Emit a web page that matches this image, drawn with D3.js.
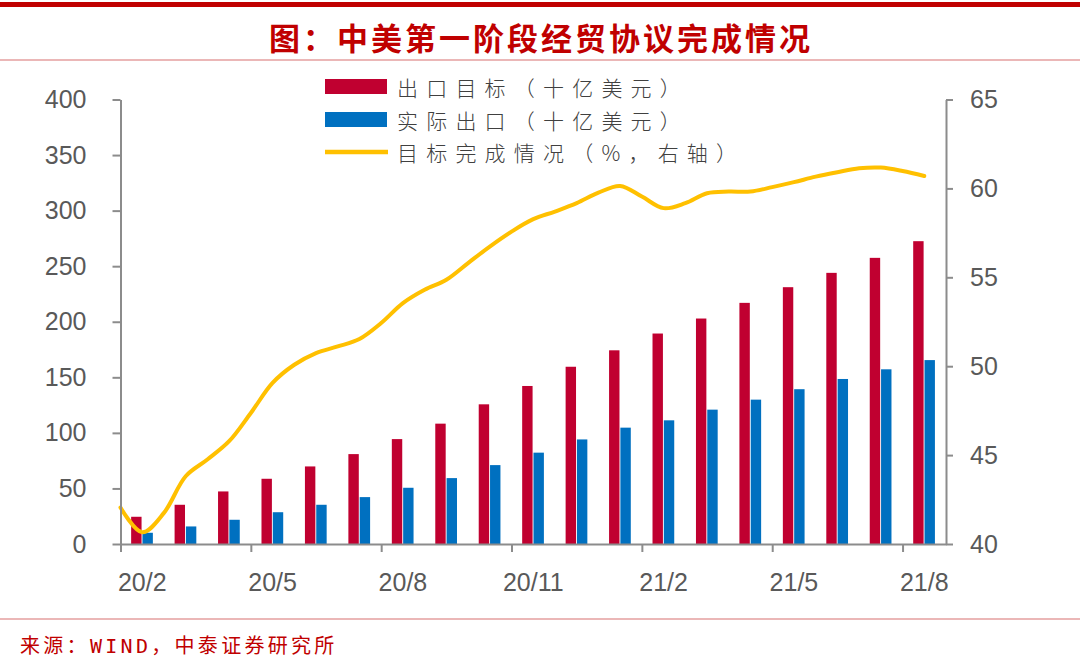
<!DOCTYPE html>
<html>
<head>
<meta charset="utf-8">
<script src="https://cdn.jsdelivr.net/npm/d3@7"></script>
<style>
  html, body { margin: 0; padding: 0; background: #fff; }
  svg { display: block; }
</style>
</head>
<body>
<svg id="chart" width="1080" height="671"></svg>
<script>
// data
const months = ["20/2","20/3","20/4","20/5","20/6","20/7","20/8","20/9","20/10","20/11","20/12",
                "21/1","21/2","21/3","21/4","21/5","21/6","21/7","21/8"]
const tickMonths = ["20/2","20/5","20/8","20/11","21/2","21/5","21/8"]
const exportTarget = [24.5, 35.3, 47.3, 58.7, 69.8, 80.9, 94.4, 108.3, 125.7, 142.2, 159.5,
                      174.3, 189.4, 202.9, 217.0, 231.1, 244.0, 257.5, 272.5]
const exportActual = [10.1, 15.8, 21.8, 28.6, 35.3, 42.2, 50.6, 59.3, 71.0, 82.2, 94.1,
                      104.7, 111.3, 120.9, 129.9, 139.3, 148.5, 157.2, 165.5]
// completion line, sampled every half month (month index, 0 = 20/2)
const lineT = [-0.5, 0, 0.5, 1, 1.5, 2, 2.5, 3, 3.5, 4, 4.5, 5, 5.5, 6, 6.5, 7, 7.5, 8, 8.5,
               9, 9.5, 10, 10.5, 11, 11.5, 12, 12.5, 13, 13.5, 14, 14.5, 15, 15.5, 16, 16.5, 17, 17.5, 18]
const completion = [42.05, 40.66, 41.75, 43.81, 44.75, 45.78, 47.37, 49.06, 50.08, 50.74, 51.11,
                    51.53, 52.43, 53.55, 54.3, 54.86, 55.8, 56.73, 57.57, 58.27, 58.7, 59.17,
                    59.76, 60.14, 59.54, 58.89, 59.17, 59.73, 59.82, 59.82, 60.07, 60.35, 60.66,
                    60.91, 61.13, 61.17, 60.98, 60.7]
const leftTicks = [0, 50, 100, 150, 200, 250, 300, 350, 400]
const rightTicks = [40, 45, 50, 55, 60, 65]
const seriesNames = ["出口目标（十亿美元）", "实际出口（十亿美元）", "目标完成情况（%，右轴）"]

const RED = "#c00030", BLUE = "#0070c0", GOLD = "#ffc000", DARKRED = "#c00000"
const AXIS = "#8c8c8c", LABEL = "#595959"

const svg = d3.select("#chart")

const plotLeft = 120.5, plotRight = 946, plotTop = 99.5, plotBottom = 544

const x = d3.scaleBand()
  .domain(months)
  .range([plotLeft, plotRight])
  .padding(0)

const xl = d3.scaleLinear()
  .domain([-0.5, months.length - 0.5])
  .range([plotLeft, plotRight])

const bw = x.bandwidth()
const x1 = d3.scaleBand()
  .domain(["target", "actual"])
  .range([bw * 0.245, bw * 0.745])
  .paddingInner(0.08)

const y = d3.scaleLinear().domain([0, 400]).range([plotBottom, plotTop])
const y2 = d3.scaleLinear().domain([40, 65]).range([plotBottom, plotTop])

// header / footer rules
svg.append("rect").attr("x", 0).attr("y", 2).attr("width", 1080).attr("height", 5).attr("fill", DARKRED)
svg.append("line").attr("x1", 0).attr("x2", 1080).attr("y1", 60).attr("y2", 60)
  .attr("stroke", "#d87070").attr("stroke-width", 1.2)
svg.append("line").attr("x1", 0).attr("x2", 1080).attr("y1", 619).attr("y2", 619)
  .attr("stroke", "#d87070").attr("stroke-width", 1.2)

svg.append("text")
  .attr("x", 541).attr("y", 36)
  .attr("text-anchor", "middle")
  .attr("dominant-baseline", "central")
  .style("font-family", "'Noto Sans CJK SC', sans-serif")
  .style("font-weight", 700)
  .style("font-size", "31px")
  .style("letter-spacing", "3px")
  .attr("fill", DARKRED)
  .text("图：中美第一阶段经贸协议完成情况")

svg.append("text")
  .attr("x", 20).attr("y", 646)
  .attr("dominant-baseline", "central")
  .style("font-family", "'DejaVu Sans Mono', 'Noto Sans CJK SC', monospace")
  .style("font-size", "20px")
  .style("letter-spacing", "3.3px")
  .attr("fill", DARKRED)
  .text("来源：WIND，中泰证券研究所")

// bars
const groups = svg.append("g").selectAll("g")
  .data(months)
  .join("g")
    .attr("transform", d => "translate(" + x(d) + ",0)")

groups.append("rect")
  .attr("x", x1("target"))
  .attr("width", x1.bandwidth())
  .attr("y", (d, i) => y(exportTarget[i]))
  .attr("height", (d, i) => plotBottom - y(exportTarget[i]))
  .attr("fill", RED)

groups.append("rect")
  .attr("x", x1("actual"))
  .attr("width", x1.bandwidth())
  .attr("y", (d, i) => y(exportActual[i]))
  .attr("height", (d, i) => plotBottom - y(exportActual[i]))
  .attr("fill", BLUE)

// completion line
const line = d3.line()
  .x(d => xl(d[0]))
  .y(d => y2(d[1]))
  .curve(d3.curveCatmullRom.alpha(0.5))

svg.append("path")
  .datum(lineT.map((t, i) => [t, completion[i]]))
  .attr("d", line)
  .attr("fill", "none")
  .attr("stroke", GOLD)
  .attr("stroke-width", 4)
  .attr("stroke-linecap", "round")

// axes
const styleAxis = (g) => {
  g.select(".domain").attr("stroke", AXIS).attr("stroke-width", 2)
  g.selectAll(".tick line").attr("stroke", AXIS).attr("stroke-width", 2)
  g.selectAll("text")
    .attr("fill", LABEL)
    .style("font-family", "'Liberation Sans', Arial, sans-serif")
    .style("font-size", "25px")
}

svg.append("g")
  .attr("transform", "translate(" + plotLeft + ",0)")
  .call(d3.axisLeft(y).tickValues(leftTicks).tickSize(8).tickSizeOuter(0).tickPadding(26))
  .call(styleAxis)

svg.append("g")
  .attr("transform", "translate(" + plotRight + ",0)")
  .call(d3.axisRight(y2).tickValues(rightTicks).tickSize(7).tickSizeOuter(0).tickPadding(17))
  .call(styleAxis)

// x axis: tick marks on band edges every three months, labels centred on the band
svg.append("g")
  .attr("transform", "translate(0," + plotBottom + ")")
  .call(d3.axisBottom(xl)
    .tickValues(d3.range(-0.5, months.length - 0.5, 3))
    .tickFormat("")
    .tickSize(8)
    .tickSizeOuter(0))
  .call(styleAxis)

svg.append("g")
  .attr("transform", "translate(0," + plotBottom + ")")
  .call(d3.axisBottom(x).tickValues(tickMonths).tickSize(0).tickPadding(29))
  .call(styleAxis)
  .call(g => g.select(".domain").remove())

// legend
const legend = svg.append("g").attr("transform", "translate(325,0)")
const legendRows = [
  { name: seriesNames[0], color: RED, type: "rect", cy: 86.5 },
  { name: seriesNames[1], color: BLUE, type: "rect", cy: 119.5 },
  { name: seriesNames[2], color: GOLD, type: "line", cy: 152 }
]

legendRows.forEach(r => {
  if (r.type === "rect") {
    legend.append("rect").attr("x", 0).attr("y", r.cy - 7.5)
      .attr("width", 62).attr("height", 15).attr("fill", r.color)
  } else {
    legend.append("line").attr("x1", 0).attr("x2", 63).attr("y1", r.cy).attr("y2", r.cy)
      .attr("stroke", r.color).attr("stroke-width", 4.5)
  }
  legend.append("text")
    .attr("x", 72).attr("y", r.cy)
    .attr("dominant-baseline", "central")
    .style("font-family", "'Noto Sans CJK SC', sans-serif")
    .style("font-weight", 300)
    .style("font-size", "21px")
    .style("letter-spacing", "8.2px")
    .attr("fill", "#404040")
    .text(r.name)
})
</script>
</body>
</html>
